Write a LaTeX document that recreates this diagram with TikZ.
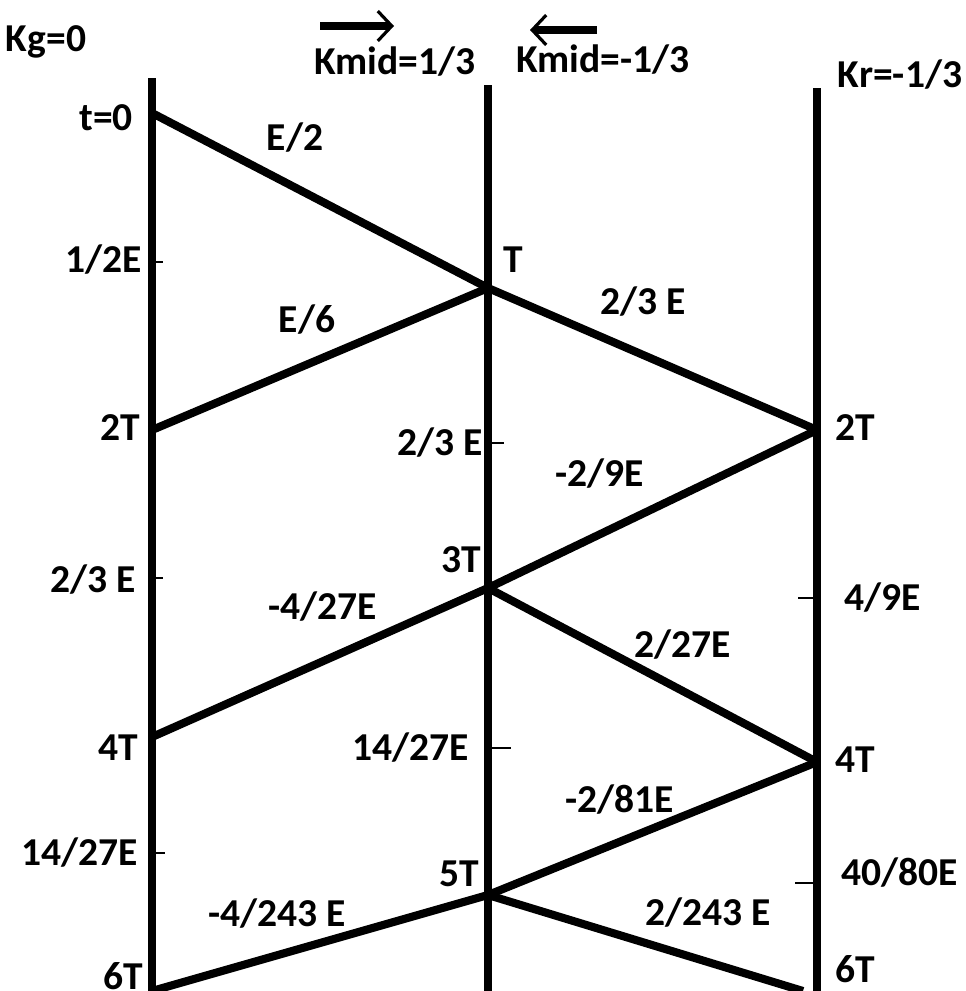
\documentclass[tikz,border=0pt]{standalone}
\usepackage{fontspec}
\setmainfont{Carlito}
\usepackage{tikz}
\usetikzlibrary{arrows.meta}

\tikzset{
  lbl/.style={font=\bfseries\fontsize{22.5}{26}\selectfont, inner sep=0pt},
  wire/.style={line width=4.6pt},
  tick/.style={line width=1.2pt},
}

\begin{document}
\begin{tikzpicture}[x=0.02cm, y=-0.02cm]
			\useasboundingbox (0,0) rectangle (966,991);
			
			% the three lines
			\coordinate (gtop) at (152,78);
			\coordinate (gbot) at (152,991);
			\coordinate (mtop) at (488,85);
			\coordinate (mbot) at (488,991);
			\coordinate (rtop) at (817,88);
			\coordinate (rbot) at (817,991);
			
			% reflection points
			\coordinate (g0) at (152,113);
			\coordinate (m1) at (488,288);
			\coordinate (g2) at (152,430);
			\coordinate (r2) at (817,430);
			\coordinate (m3) at (488,588);
			\coordinate (g4) at (152,737);
			\coordinate (r4) at (817,762);
			\coordinate (m5) at (488,895);
			\coordinate (g6) at (152,991);
			\coordinate (r6) at (803,991);
			
			% ticks
			\coordinate (tg1a) at (152,262); \coordinate (tg1b) at (163,262);
			\coordinate (tg2a) at (152,578); \coordinate (tg2b) at (163,578);
			\coordinate (tg3a) at (152,853); \coordinate (tg3b) at (165,853);
			\coordinate (tm1a) at (488,443); \coordinate (tm1b) at (504,443);
			\coordinate (tm2a) at (488,748); \coordinate (tm2b) at (511,748);
			\coordinate (tr1a) at (817,598); \coordinate (tr1b) at (798,598);
			\coordinate (tr2a) at (817,883); \coordinate (tr2b) at (795,883);
			
			% arrows on top
			\coordinate (a1) at (320,26); \coordinate (a2) at (394,26);
			\coordinate (b1) at (597,30); \coordinate (b2) at (530,30);
			
			\node[lbl] (kg) at (46,42) {Kg=0};
			\node[lbl] (kmidp) at (395,62) {Kmid=1/3};
			\node[lbl] (kmidn) at (603,60) {Kmid=-1/3};
			\node[lbl] (kr) at (900,75) {Kr=-1/3};
			
			\node[lbl] (t0) at (106,118) {t=0};
			\node[lbl] (e2) at (295,138) {E/2};
			\node[lbl] (half) at (104,260) {1/2E};
			\node[lbl] (tT) at (513,260) {T};
			\node[lbl] (e23a) at (643,302) {2/3 E};
			\node[lbl] (e6) at (307,320) {E/6};
			\node[lbl] (g2T) at (120,428) {2T};
			\node[lbl] (r2T) at (855,428) {2T};
			\node[lbl] (e23b) at (440,443) {2/3 E};
			\node[lbl] (e29) at (600,474) {-2/9E};
			\node[lbl] (m3T) at (461,560) {3T};
			\node[lbl] (e23c) at (93,580) {2/3 E};
			\node[lbl] (e427) at (323,607) {-4/27E};
			\node[lbl] (e49) at (883,598) {4/9E};
			\node[lbl] (e227) at (683,645) {2/27E};
			\node[lbl] (g4T) at (118,748) {4T};
			\node[lbl] (e1427a) at (411,748) {14/27E};
			\node[lbl] (r4T) at (855,760) {4T};
			\node[lbl] (e281) at (620,800) {-2/81E};
			\node[lbl] (e1427b) at (80,853) {14/27E};
			\node[lbl] (m5T) at (459,874) {5T};
			\node[lbl] (e4080) at (900,873) {40/80E};
			\node[lbl] (e4243) at (277,914) {-4/243 E};
			\node[lbl] (e2243) at (708,913) {2/243 E};
			\node[lbl] (g6T) at (123,976) {6T};
			\node[lbl] (r6T) at (855,969) {6T};
			
			\draw[wire] (gtop) -- (gbot);
			\draw[wire] (mtop) -- (mbot);
			\draw[wire] (rtop) -- (rbot);
			
			\draw[wire] (g0) -- (m1);
			\draw[wire] (m1) -- (r2);
			\draw[wire] (g2) -- (m1);
			\draw[wire] (r2) -- (m3);
			\draw[wire] (m3) -- (g4);
			\draw[wire] (m3) -- (r4);
			\draw[wire] (r4) -- (m5);
			\draw[wire] (m5) -- (g6);
			\draw[wire] (m5) -- (r6);
			
			\draw[tick] (tg1a) -- (tg1b);
			\draw[tick] (tg2a) -- (tg2b);
			\draw[tick] (tg3a) -- (tg3b);
			\draw[tick] (tm1a) -- (tm1b);
			\draw[tick] (tm2a) -- (tm2b);
			\draw[tick] (tr1a) -- (tr1b);
			\draw[tick] (tr2a) -- (tr2b);
			
			\draw[line width=4.5pt, -{Straight Barb[length=8pt, width=17pt, line width=1.8pt]}] (a1) -- (a2);
			\draw[line width=4.5pt, -{Straight Barb[length=8pt, width=17pt, line width=1.8pt]}] (b1) -- (b2);
\end{tikzpicture}
\end{document}
